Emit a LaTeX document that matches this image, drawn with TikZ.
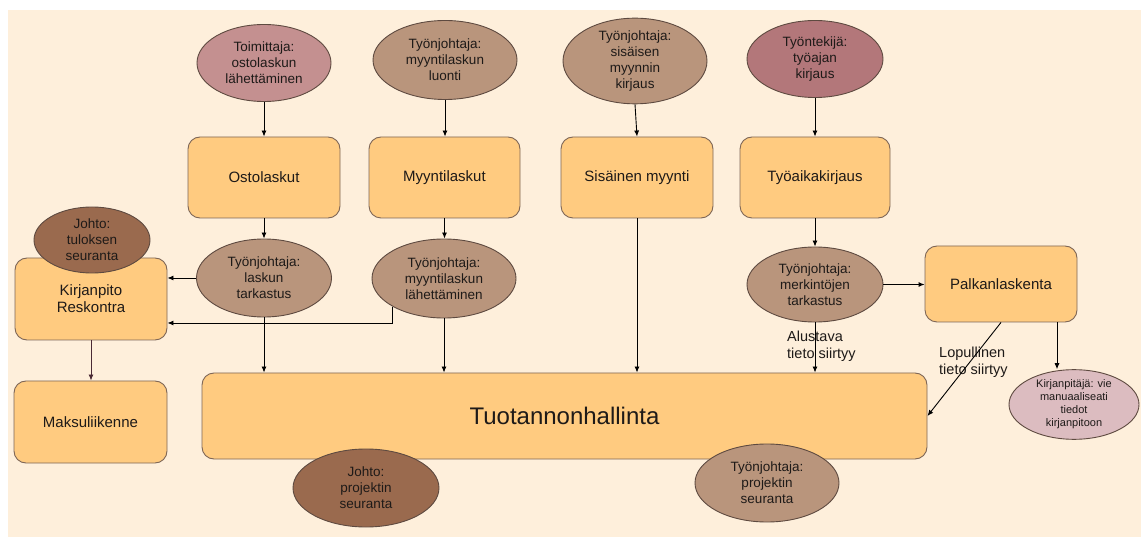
\documentclass[tikz,border=0pt]{standalone}
\usepackage{fontspec}
\setmainfont{Liberation Sans}
\usetikzlibrary{shapes.geometric,arrows.meta}
\definecolor{bg}{HTML}{FEEFDB}
\definecolor{boxfill}{HTML}{FFCB80}
\definecolor{boxline}{HTML}{7E6656}
\definecolor{ellline}{HTML}{5E4A40}
\definecolor{txt}{HTML}{1E1A18}
\definecolor{cToim}{HTML}{C49090}
\definecolor{cTj}{HTML}{B9957C}
\definecolor{cTt}{HTML}{B3777A}
\definecolor{cJohto}{HTML}{9A6A4E}
\definecolor{cKp}{HTML}{DCBCC0}
\definecolor{darkln}{HTML}{4A2A35}
\begin{document}
\begin{tikzpicture}[x=1pt,y=-1pt,
  box/.style={draw=boxline, fill=boxfill, line width=0.9pt, rounded corners=12pt, inner sep=0pt,
    align=center, text=txt, font=\fontsize{15}{17}\selectfont},
  ell/.style={ellipse, draw=ellline, line width=0.9pt, inner sep=0pt, align=center, text=txt,
    font=\fontsize{13.5}{16}\selectfont},
  arr/.style={-{Latex[length=6pt,width=5pt]}, black, line width=0.9pt},
  lbl/.style={anchor=west, align=left, text=txt, inner sep=0pt, font=\fontsize{14.5}{17}\selectfont}
]
\useasboundingbox (0,0) rectangle (1141,537);
\fill[bg] (8,10) rectangle (1141,537);

% boxes
\node[box, minimum width=152pt, minimum height=81pt] (ost) at (264,177.5) {Ostolaskut};
\node[box, minimum width=151pt, minimum height=81pt] (myy) at (444.5,177.5) {Myyntilaskut};
\node[box, minimum width=152pt, minimum height=81pt] (sis) at (637,177.5) {Sisäinen myynti};
\node[box, minimum width=150pt, minimum height=81pt] (tyo) at (815,177.5) {Työaikakirjaus};
\node[box, minimum width=152pt, minimum height=82pt] (kirj) at (91,299) {Kirjanpito\\Reskontra};
\node[box, minimum width=152pt, minimum height=76pt] (palk) at (1001,284) {Palkanlaskenta};
\node[box, minimum width=153pt, minimum height=82pt] (maks) at (90.5,422) {Maksuliikenne};
\node[box, minimum width=725pt, minimum height=86pt, font=\fontsize{24}{28}\selectfont] (tuot) at (564.5,416) {Tuotannonhallinta};

% ellipses
\node[ell, fill=cToim, minimum width=134pt, minimum height=77pt] (e1) at (264,63) {Toimittaja:\\ostolaskun\\lähettäminen};
\node[ell, fill=cTj, minimum width=144pt, minimum height=79pt] (e2) at (445,60) {Työnjohtaja:\\myyntilaskun\\luonti};
\node[ell, fill=cTj, minimum width=144pt, minimum height=78pt] (e3) at (635,61) {Työnjohtaja:\\sisäisen\\myynnin\\kirjaus};
\node[ell, fill=cTt, minimum width=136pt, minimum height=77pt] (e4) at (815,59) {Työntekijä:\\työajan\\kirjaus};
\node[ell, fill=cTj, minimum width=135pt, minimum height=78pt] (e5) at (264,278) {Työnjohtaja:\\laskun\\tarkastus};
\node[ell, fill=cTj, minimum width=144pt, minimum height=79pt] (e6) at (444,278.5) {Työnjohtaja:\\myyntilaskun\\lähettäminen};
\node[ell, fill=cTj, minimum width=136pt, minimum height=75pt] (e7) at (815,284.5) {Työnjohtaja:\\merkintöjen\\tarkastus};
\node[ell, fill=cJohto, minimum width=116pt, minimum height=66pt] (e8) at (92,240) {Johto:\\tuloksen\\seuranta};
\node[ell, fill=cKp, minimum width=130pt, minimum height=69pt, font=\fontsize{11}{13}\selectfont] (e9) at (1074,404.5) {Kirjanpitäjä: vie\\manuaaliseati\\tiedot\\kirjanpitoon};
\node[ell, fill=cJohto, minimum width=146pt, minimum height=78pt] (e10) at (366,488) {Johto:\\projektin\\seuranta};
\node[ell, fill=cTj, minimum width=144pt, minimum height=78pt] (e11) at (767,483) {Työnjohtaja:\\projektin\\seuranta};

% labels
\node[lbl] (l1) at (787,346) {Alustava\\tieto siirtyy};
\node[lbl] (l2) at (939,362) {Lopullinen\\tieto siirtyy};

% connectors
\draw[arr] (e1.south) -- (ost.north);
\draw[arr] (e2.south) -- (e2.south |- myy.north);
\draw[arr] (e3.south) -- (sis.north);
\draw[arr] (e4.south) -- (tyo.north);
\draw[arr] (ost.south) -- (e5.north);
\draw[arr] (myy.south) -- (myy.south |- e6.north);
\draw[arr] (e5.west) -- (e5.west -| kirj.east);
\draw[arr] (e6.south west) |- ([yshift=-24pt]kirj.east);
\draw[arr] (e5.south) -- (e5.south |- tuot.north);
\draw[arr] (e6.south) -- (e6.south |- tuot.north);
\draw[arr] (sis.south) -- (sis.south |- tuot.north);
\draw[arr] (tyo.south) -- (e7.north);
\draw[arr] (e7.south) -- (e7.south |- tuot.north);
\draw[arr] (e7.east) -- (e7.east -| palk.west);
\draw[arr] (palk.south) -- (tuot.east);
\draw[arr] ([xshift=56pt]palk.south) -- ([xshift=56pt]palk.south |- e9.north);
\draw[arr, darkln] (kirj.south) -- (kirj.south |- maks.north);
\end{tikzpicture}
\end{document}
